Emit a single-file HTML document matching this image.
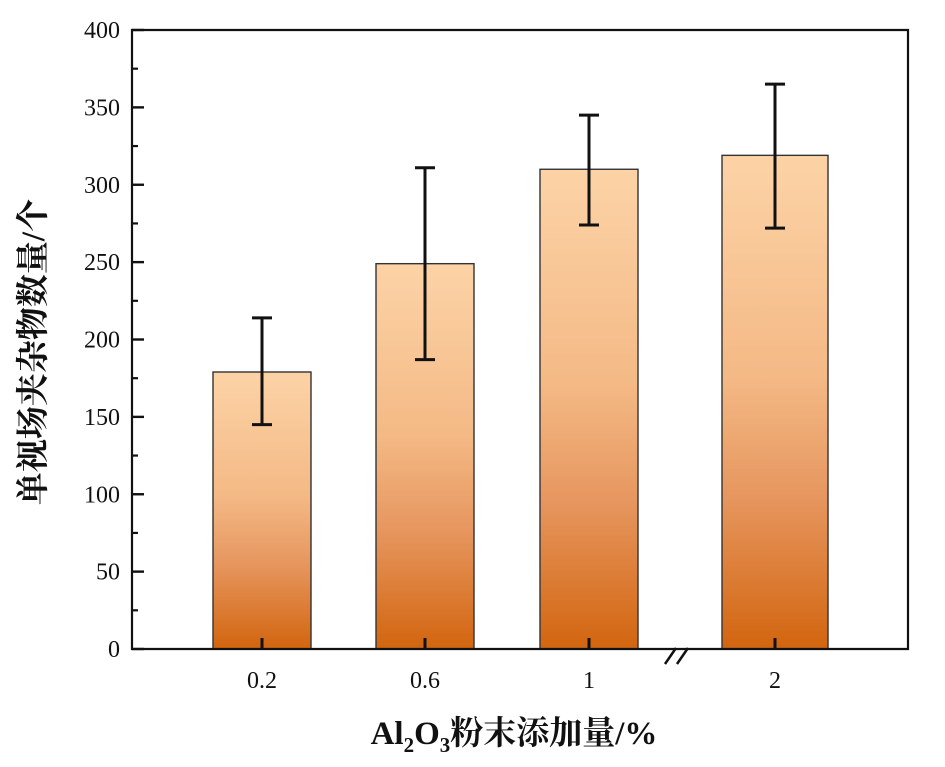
<!DOCTYPE html>
<html><head><meta charset="utf-8"><style>
body{margin:0;background:#fff}
svg text{font-family:"Liberation Serif","Noto Serif CJK SC",serif;fill:#111}
</style></head><body>
<svg id="chart" width="945" height="762" viewBox="0 0 945 762" xmlns="http://www.w3.org/2000/svg">
<defs>
<linearGradient id="g" x1="0" y1="0" x2="0" y2="1">
<stop offset="0" stop-color="#fcd3a6"/>
<stop offset="0.45" stop-color="#f4b985"/>
<stop offset="0.7" stop-color="#e6955d"/>
<stop offset="1" stop-color="#d2650f"/>
</linearGradient>
</defs>
<g id="plot"></g>
<text x="514" y="744" text-anchor="middle" font-size="33" font-weight="bold">Al<tspan font-size="21" dy="8">2</tspan><tspan dy="-8">O</tspan><tspan font-size="21" dy="8">3</tspan><tspan dy="-8">粉末添加量/%</tspan></text>
<text transform="translate(44,352) rotate(-90)" text-anchor="middle" font-size="33" font-weight="bold">单视场夹杂物数量/个</text>
</svg>
<script>
const categories=['0.2','0.6','1','2'];
const values=[179,249,310,319];
const errHigh=[214,311,345,365];
const errLow=[145,187,274,272];
const yTicks=[0,50,100,150,200,250,300,350,400];
const centers=[262,425,589,775];
const X0=132,X1=908,Y0=649,Y1=30;
const y=v=>Y0-(v/400)*(Y0-Y1);
const NS='http://www.w3.org/2000/svg';
const g=document.getElementById('plot');
function mk(t,a){const e=document.createElementNS(NS,t);for(const k in a)e.setAttribute(k,a[k]);g.appendChild(e);return e;}
categories.forEach((c,i)=>{
  const cx=centers[i],w=(i===3?106:98);
  const r=mk('rect',{x:cx-w/2,y:y(values[i]),width:w,height:Y0-y(values[i]),fill:'url(#g)',stroke:'#333','stroke-width':1.4});
  
  
  const e=mk('path',{d:`M${cx},${y(errHigh[i])}V${y(errLow[i])}M${cx-10},${y(errHigh[i])}h20M${cx-10},${y(errLow[i])}h20`,stroke:'#111','stroke-width':3,fill:'none'});
  
  
  const t=mk('path',{d:`M${cx},${Y0}v-11`,stroke:'#111','stroke-width':3});
  
  
  const l=mk('text',{x:cx,y:688,'text-anchor':'middle','font-size':24});
  l.textContent=c;
  
  
});
const f=mk('path',{d:`M${X0},${Y1}H${X1}V${Y0}H${X0}Z`,fill:'none',stroke:'#111','stroke-width':2.2});


const bk=mk('path',{d:`M665,664l11,-16M677,664l11,-16`,stroke:'#111','stroke-width':2.5});


yTicks.forEach((v,i)=>{
  const t=mk('path',{d:`M${X0},${y(v)}h12`,stroke:'#111','stroke-width':2.4});
  
  
  if(i<yTicks.length-1){const m=mk('path',{d:`M${X0},${y(v+25)}h6`,stroke:'#111','stroke-width':2.2});
  
  }
  const l=mk('text',{x:120,y:y(v)+8,'text-anchor':'end','font-size':24});
  l.textContent=v;
  
  
});
</script>
</body></html>
